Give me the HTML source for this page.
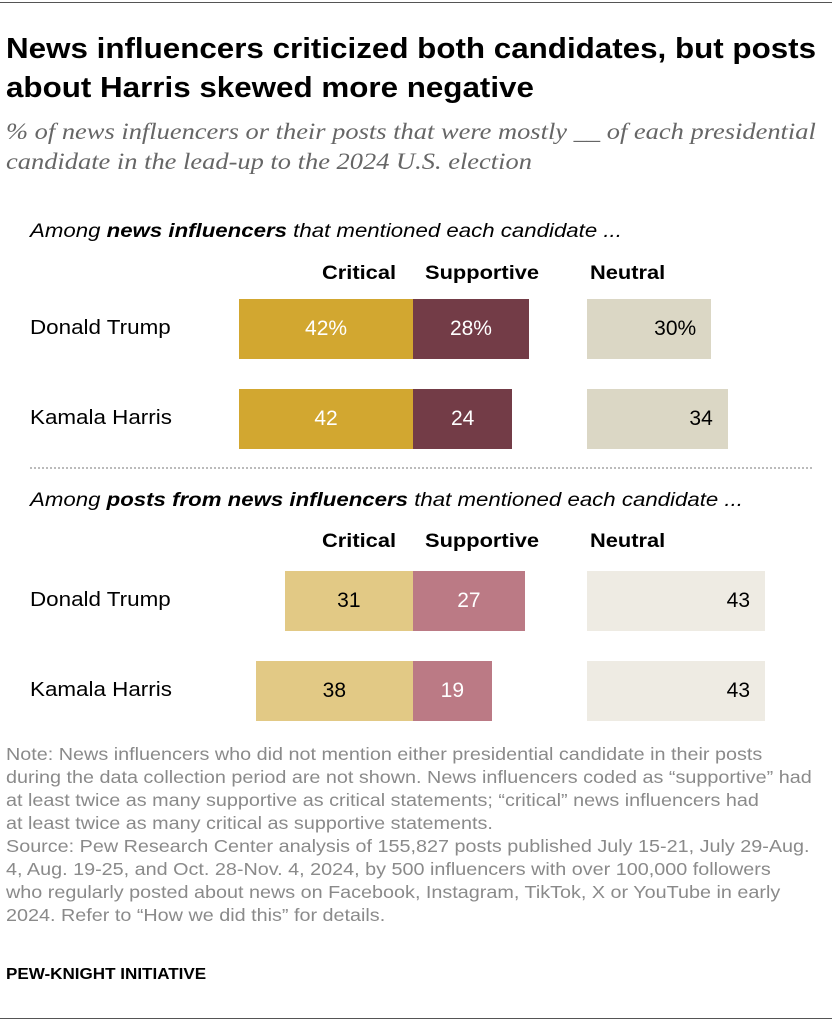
<!DOCTYPE html>
<html><head><meta charset="utf-8"><style>
body{margin:0;width:832px;height:1024px;background:#fff;position:relative;font-family:"Liberation Sans",sans-serif;overflow:hidden}
.a{position:absolute;white-space:nowrap}
.title{left:6px;top:30px;font-size:28.5px;font-weight:bold;color:#000;line-height:39px;transform:scaleX(1.1);transform-origin:0 0}
.sub{left:6px;top:117px;font-family:"Liberation Serif",serif;font-style:italic;font-size:23px;color:#666;line-height:30px;transform:scaleX(1.15);transform-origin:0 0}
.sec{left:30px;font-style:italic;font-size:19px;color:#000;transform:scaleX(1.17);transform-origin:0 0}
.hd{font-weight:bold;font-size:19.5px;color:#000;transform:scaleX(1.12);transform-origin:0 0}
.rl{left:30px;font-size:20px;color:#000;transform:scaleX(1.12);transform-origin:0 0}
.note{left:6px;top:743px;font-size:17.5px;color:#8a8a8a;line-height:23px;transform:scaleX(1.13);transform-origin:0 0}
</style></head><body>
<div class="a" style="left:0;top:2px;width:832px;height:1px;background:#555"></div>
<div class="a title">News influencers criticized both candidates, but posts<br>about Harris skewed more negative</div>
<div class="a sub">% of news influencers or their posts that were mostly __ of each presidential<br>candidate in the lead-up to the 2024 U.S. election</div>
<div class="a sec" style="top:221px">Among <b>news influencers</b> that mentioned each candidate ...</div>
<div class="a sec" style="top:490px">Among <b>posts from news influencers</b> that mentioned each candidate ...</div>
<div class="a" style="left:30px;top:467px;width:782px;border-top:2px dotted #bbb"></div>
<div id="chart"></div>
<div class="a note">Note: News influencers who did not mention either presidential candidate in their posts<br>during the data collection period are not shown. News influencers coded as “supportive” had<br>at least twice as many supportive as critical statements; “critical” news influencers had<br>at least twice as many critical as supportive statements.<br>Source: Pew Research Center analysis of 155,827 posts published July 15-21, July 29-Aug.<br>4, Aug. 19-25, and Oct. 28-Nov. 4, 2024, by 500 influencers with over 100,000 followers<br>who regularly posted about news on Facebook, Instagram, TikTok, X or YouTube in early<br>2024. Refer to “How we did this” for details.</div>
<div class="a" style="left:6px;top:966px;font-size:15.5px;font-weight:bold;color:#000;transform:scaleX(1.1);transform-origin:0 0">PEW-KNIGHT INITIATIVE</div>
<div class="a" style="left:0;top:1018px;width:832px;height:1px;background:#555"></div>
<script>
const candidates=["Donald Trump","Kamala Harris"];
const inflCritical=[42,42];
const inflSupportive=[28,24];
const inflNeutral=[30,34];
const postCritical=[31,38];
const postSupportive=[27,19];
const postNeutral=[43,43];
const K=4.14, CENTER=413, NSTART=587;
const x=v=>v*K;
const root=document.getElementById('chart');
function box(l,t,w,h,bg,name){const d=document.createElement('div');d.className='a';d.style.cssText=`left:${l}px;top:${t}px;width:${w}px;height:${h}px;background:${bg}`;


root.appendChild(d);return d;}
function txt(el,s,color,align){el.textContent=s;el.style.color=color;el.style.font='21px "Liberation Sans",sans-serif';el.style.lineHeight=el.style.height;el.style.textAlign=align;if(align==='right'){el.style.boxSizing='border-box';el.style.paddingRight='15px';}}
function header(top,key){[["Critical",322],["Supportive",425],["Neutral",590]].forEach(([s,l])=>{const d=document.createElement('div');d.className='a hd';d.style.left=l+'px';d.style.top=top+'px';d.textContent=s;


root.appendChild(d);});}
function section(tops,crit,sup,neu,cols,key,pct){
 tops.forEach((t,i)=>{
  const lab=document.createElement('div');lab.className='a rl';lab.style.top=(t+18)+'px';lab.textContent=candidates[i];
  
  
  root.appendChild(lab);
  const s=i===0&&pct?'%':'';
  const c=box(CENTER-x(crit[i]),t,x(crit[i]),60,cols[0],key+'-bar-critical-'+i);txt(c,crit[i]+s,cols[3],'center');
  const p=box(CENTER,t,x(sup[i]),60,cols[1],key+'-bar-supportive-'+i);txt(p,sup[i]+s,'#fff','center');
  const n=box(NSTART,t,x(neu[i]),60,cols[2],key+'-bar-neutral-'+i);txt(n,neu[i]+s,'#000','right');
 });
}
header(262,'influencers');header(530,'posts');
section([299,389],inflCritical,inflSupportive,inflNeutral,['#D2A730','#733C47','#DBD7C5','#fff'],'influencers',true);
section([571,661],postCritical,postSupportive,postNeutral,['#E2C985','#BB7A85','#EEEBE3','#000'],'posts',false);
</script>
</body></html>
